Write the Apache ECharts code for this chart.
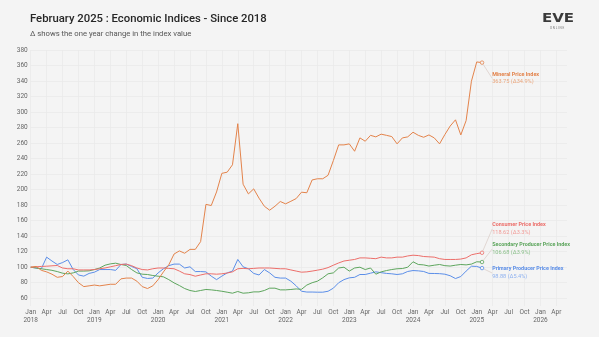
<!DOCTYPE html>
<html><head><meta charset="utf-8">
<script src="https://cdn.jsdelivr.net/npm/echarts@6/dist/echarts.min.js"></script>
<style>html,body{margin:0;padding:0;background:#f4f4f4}#c{width:599px;height:337px}</style>
</head><body><div id="c"></div>
<script>
const monthNames = ['Jan','Feb','Mar','Apr','May','Jun','Jul','Aug','Sep','Oct','Nov','Dec'];
const categories = [];
for (let y = 2018; y <= 2026; y++) {
  for (let m = 0; m < 12; m++) {
    if (y === 2026 && m > 5) break;
    categories.push(monthNames[m] + ' ' + y);
  }
}
const yTicks = [60,80,100,120,140,160,180,200,220,240,260,280,300,320,340,360,380];

const seriesNames = ['Mineral Price Index','Consumer Price Index','Secondary Producer Price Index','Primary Producer Price Index'];
const yearChange = ['34.9%','3.3%','3.9%','5.4%'];

const mineral = [100,101,96,94,91,87,88,95,88,80,75,76,77,76,77,78,78,85,86,86,82,75,72.5,76,
 84,94,103,117,121,118,123,123,133,181,179.5,197,221,222.5,232,285,207,194.5,201,189,178.6,173.5,178.6,184.7,
 181.7,185,188.5,196.7,196,212.5,214,214,218.5,237.5,257.7,257.7,259,249.5,266.7,262.4,270,268,271.5,270,268.4,259,266.7,268,
 274,270,267.5,270.5,266.7,259,271,282,290,270.5,289,339.7,364.6,363.75];
const consumer = [100,100.5,101,101.3,101.8,102.2,99,98,98,96.5,96.5,96.5,97,98,99,100.5,102,103.5,104,102,99,97,96.5,98,
 99,99,98.5,98,95,91.5,90.5,88.4,90,91.5,91.5,91,91.5,92.5,94,98,98.5,98,98.5,99,99,99,98.5,98,
 98,96.5,95,93.6,94,95,96.2,97.5,99.5,102.6,105.5,108,109,110,112,112,111.5,111,113,112,112,113,113,114.5,
 115.5,115,113.8,113.4,113,111,110,110,110,110.5,112,116,117.5,118.62];
const secondary = [100,99,98,97,96,94.4,92.3,91.4,92.7,95,95,95.3,97,99,102.6,104.3,105.2,103.5,102.2,97,92.7,91,90.6,89.3,
 88.4,87.6,84,79.8,76.4,72.5,70,68.7,70,71.3,70.8,70,69,67.8,66.5,68.7,66.5,67,68.2,68.2,70,73,73,70.8,
 70.8,71.3,72,71.5,77,80,82,86.3,91.5,92.7,99,100,95,99,100,97,99,91,94,95.7,97,98,98.3,100,
 107,103.5,103,101.5,102.6,103.5,102,101.5,102.6,103.5,103,104,107,106.68];
const primary = [100,99,98,113,108,103.5,106,109.5,97,90,88.5,92,93.6,97,97,97,96,103.5,104,101,98,87,85.5,86,
 92.7,98,102,104,104,99,100.5,94.4,94.4,94,88.5,84,88.5,92.7,95,110,100.5,98,92,90,97,92.7,87,86,
 86,82,76,69,68,68,67.8,67.8,69,73,80,84,86.3,87,90.6,90.6,92.3,94,93,92,91.5,90.6,91.5,94.5,
 95.7,95.3,94.5,92,91.9,91.7,91,89,85.4,88,95,101.3,101,98.88];

const lineColors = ['#e3834b','#ec6e6a','#5da55d','#5b8ee8'];
const valueColors = ['#eaa67c','#f19a96','#8cc08c','#8fb2f0'];
const labelShift = [[8,15.5],[8,-24],[8,-13.3],[8,4.7]];
const allData = [mineral, consumer, secondary, primary];

const series = allData.map((arr, i) => {
  const data = arr.slice(0, -1);
  const last = arr[arr.length - 1];
  data.push({
    value: last,
    symbol: 'circle',
    symbolSize: 3.5,
    itemStyle: {color: '#f4f4f4', borderColor: lineColors[i], borderWidth: 0.8},
    label: {
      show: true, position: 'right', distance: 0,
      formatter: '{t|' + seriesNames[i] + '}\n{v|' + last.toFixed(2) + ' (Δ' + yearChange[i] + ')}',
      rich: {
        t: {fontSize: 5.4, fontWeight: 'bold', color: lineColors[i], lineHeight: 7.5, fontFamily: 'Roboto'},
        v: {fontSize: 5.6, color: valueColors[i], lineHeight: 7.5, fontFamily: 'Roboto'}
      }
    }
  });
  return {
    name: seriesNames[i], type: 'line', data: data,
    symbol: 'none', showSymbol: true, showAllSymbol: true, smooth: false,
    lineStyle: {color: lineColors[i], width: 1},
    itemStyle: {color: lineColors[i]},
    labelLayout: {dx: labelShift[i][0], dy: labelShift[i][1]},
    labelLine: {show: true, smooth: false, length2: 0, lineStyle: {color: '#dccfca', width: 0.8}},
    animation: false, z: 4 - i
  };
});

const chart = echarts.init(document.getElementById('c'), null, {renderer: 'canvas'});
chart.setOption({
  backgroundColor: '#f4f4f4',
  animation: false,
  title: [
    {text: 'February 2025 : Economic Indices - Since 2018', left: 30, top: 14, padding: 0,
     textStyle: {fontSize: 11.3, fontWeight: 500, color: '#262626', fontFamily: 'Roboto'}},
    {text: 'Δ shows the one year change in the index value', left: 30, top: 30, padding: 0,
     textStyle: {fontSize: 7.7, fontWeight: 'normal', color: '#555', fontFamily: 'Roboto'}}
  ],
  graphic: [
    {type: 'text', left: 542, top: 13, scaleX: 1.25, style: {text: 'EVE', font: 'bold 12px "DejaVu Sans"', fill: '#3a3a3a'}},
    {type: 'text', left: 550, top: 26.5, style: {text: 'O N L I N E', font: '3px Roboto', fill: '#777'}}
  ],
  grid: {left: 30.7, right: 32, top: 50, bottom: 31, containLabel: false},
  xAxis: {
    type: 'category', data: categories, boundaryGap: false,
    axisLine: {show: false}, axisTick: {show: false},
    axisLabel: {interval: 2, fontSize: 6.5, color: '#666', margin: 3, lineHeight: 7.5, fontFamily: 'Roboto',
      formatter: v => { const p = v.split(' '); return p[0] === 'Jan' ? p[0] + '\n' + p[1] : p[0]; }},
    splitLine: {show: true, interval: 2, lineStyle: {color: '#eaeaea', width: 0.8}}
  },
  yAxis: {
    type: 'value', min: 50, max: 380,
    axisLine: {show: false},
    axisTick: {show: false, customValues: yTicks},
    axisLabel: {customValues: yTicks, fontSize: 6.5, color: '#666', margin: 3, fontFamily: 'Roboto'},
    splitLine: {show: true, lineStyle: {color: '#eaeaea', width: 0.8}}
  },
  series: series
});
</script></body></html>
